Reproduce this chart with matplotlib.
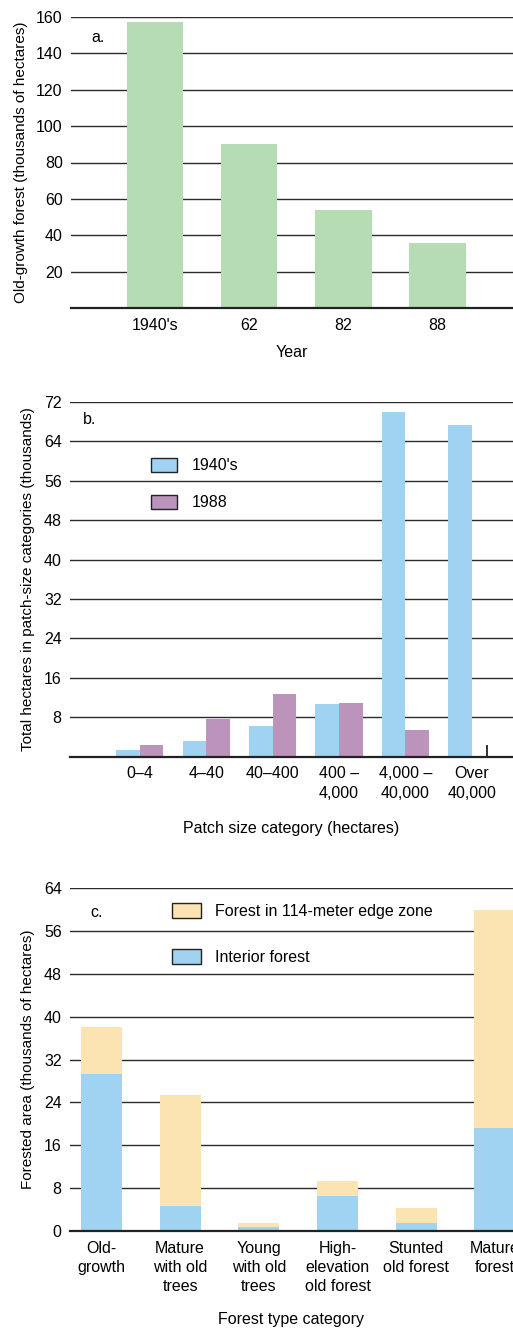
import numpy as np
import matplotlib
matplotlib.use('Agg')
import matplotlib.pyplot as plt
from matplotlib.patches import Patch

plt.rcParams['font.family'] = ['Liberation Sans Narrow', 'Liberation Sans', 'DejaVu Sans']
plt.rcParams['font.size'] = 11

# panel a
years = ["1940's", '62', '82', '88']
old_growth = [157, 90, 54, 36]

# panel b
patch_cats = ['0\u20134', '4\u201340', '40\u2013400', '400 \u2013\n4,000', '4,000 \u2013\n40,000', 'Over\n40,000']
patch_1940s = [1.4, 3.2, 6.2, 10.6, 69.9, 67.3]
patch_1988 = [2.4, 7.6, 12.7, 10.9, 5.4, 0.0]
tick_1988_over = 2.3   # little stroke drawn for the (near) zero 1988 value

# panel c
forest_types = ['Old-\ngrowth', 'Mature\nwith old\ntrees', 'Young\nwith old\ntrees',
                'High-\nelevation\nold forest', 'Stunted\nold forest', 'Mature\nforest']
interior = [29.3, 4.7, 0.75, 6.6, 1.55, 19.3]
edge_zone = [8.8, 20.7, 0.8, 2.7, 2.75, 40.7]

green = '#b6dcb4'
blue = '#9fd3f1'
purple = '#bc93bb'
tan = '#fce4b2'
gridc = '#2a2a2a'

fig = plt.figure(figsize=(5.13, 13.33), dpi=100)
W, H = 513.0, 1333.0

def make_ax(left, top, bottom):
    return fig.add_axes([left / W, 1 - bottom / H, 1 - left / W, (bottom - top) / H])

def style(ax):
    for s in ['top', 'right', 'left']:
        ax.spines[s].set_visible(False)
    ax.spines['bottom'].set_linewidth(1.6)
    ax.spines['bottom'].set_color('#222222')
    ax.set_axisbelow(True)
    ax.yaxis.grid(True, color=gridc, linewidth=1.0)
    ax.tick_params(axis='y', length=0, pad=6, labelsize=11.5)
    ax.tick_params(axis='x', length=0, pad=7, labelsize=11.5)

# ---- a ----
ax1 = make_ax(71, 17, 308)
x = np.arange(len(years))
ax1.bar(x, old_growth, width=0.6, color=green)
ax1.set_ylim(0, 160)
ax1.set_xlim(-0.89, 3.8)
ax1.set_yticks(range(20, 161, 20))
ax1.set_xticks(x)
ax1.set_xticklabels(years)
style(ax1)
ax1.set_ylabel('Old-growth forest (thousands of hectares)', fontsize=11, labelpad=6)
ax1.set_xlabel('Year', fontsize=11.5, labelpad=9)
ax1.text(0.045, 0.93, 'a.', transform=ax1.transAxes, fontsize=11.5, va='center')

# ---- b ----
ax2 = make_ax(70, 402, 756.7)
x = np.arange(len(patch_cats))
w = 0.355
ax2.bar(x - w / 2, patch_1940s, width=w, color=blue)
ax2.bar(x + w / 2, patch_1988, width=w, color=purple)
ax2.vlines(x[-1] + w / 2 + 0.05, 0, tick_1988_over, color='#111111', linewidth=1.2)
ax2.set_ylim(0, 72)
ax2.set_xlim(-1.05, 5.62)
ax2.set_yticks(range(8, 73, 8))
ax2.set_xticks(x)
ax2.set_xticklabels(patch_cats, linespacing=1.4)
style(ax2)
ax2.set_ylabel('Total hectares in patch-size categories (thousands)', fontsize=11, labelpad=6)
ax2.set_xlabel('Patch size category (hectares)', fontsize=11.5, labelpad=14)
ax2.text(0.03, 0.95, 'b.', transform=ax2.transAxes, fontsize=11.5, va='center')
h = [Patch(facecolor=blue, edgecolor='#222222', linewidth=1.0),
     Patch(facecolor=purple, edgecolor='#222222', linewidth=1.0)]
ax2.legend(h, ["1940's", '1988'], loc='upper left', bbox_to_anchor=(0.183, 0.843),
           frameon=False, fontsize=11.5, handlelength=1.63, handleheight=1.0,
           handletextpad=0.94, labelspacing=1.35, borderaxespad=0, borderpad=0)

# ---- c ----
ax3 = make_ax(70, 888.3, 1231)
x = np.arange(len(forest_types))
ax3.bar(x, interior, width=0.52, color=blue)
ax3.bar(x, edge_zone, width=0.52, bottom=interior, color=tan)
ax3.set_ylim(0, 64)
ax3.set_xlim(-0.40, 5.23)
ax3.set_yticks(range(0, 65, 8))
ax3.set_xticks(x)
ax3.set_xticklabels(forest_types, linespacing=1.35)
style(ax3)
ax3.set_ylabel('Forested area (thousands of hectares)', fontsize=11, labelpad=6)
ax3.set_xlabel('Forest type category', fontsize=11.5, labelpad=13)
ax3.text(0.045, 0.93, 'c.', transform=ax3.transAxes, fontsize=11.5, va='center')
h = [Patch(facecolor=tan, edgecolor='#222222', linewidth=1.0),
     Patch(facecolor=blue, edgecolor='#222222', linewidth=1.0)]
ax3.legend(h, ['Forest in 114-meter edge zone', 'Interior forest'], loc='upper left',
           bbox_to_anchor=(0.23, 0.958), frameon=False, fontsize=11.5,
           handlelength=1.8, handleheight=1.1, handletextpad=0.9,
           labelspacing=1.9, borderaxespad=0, borderpad=0)

fig.savefig('out.png', dpi=100)
